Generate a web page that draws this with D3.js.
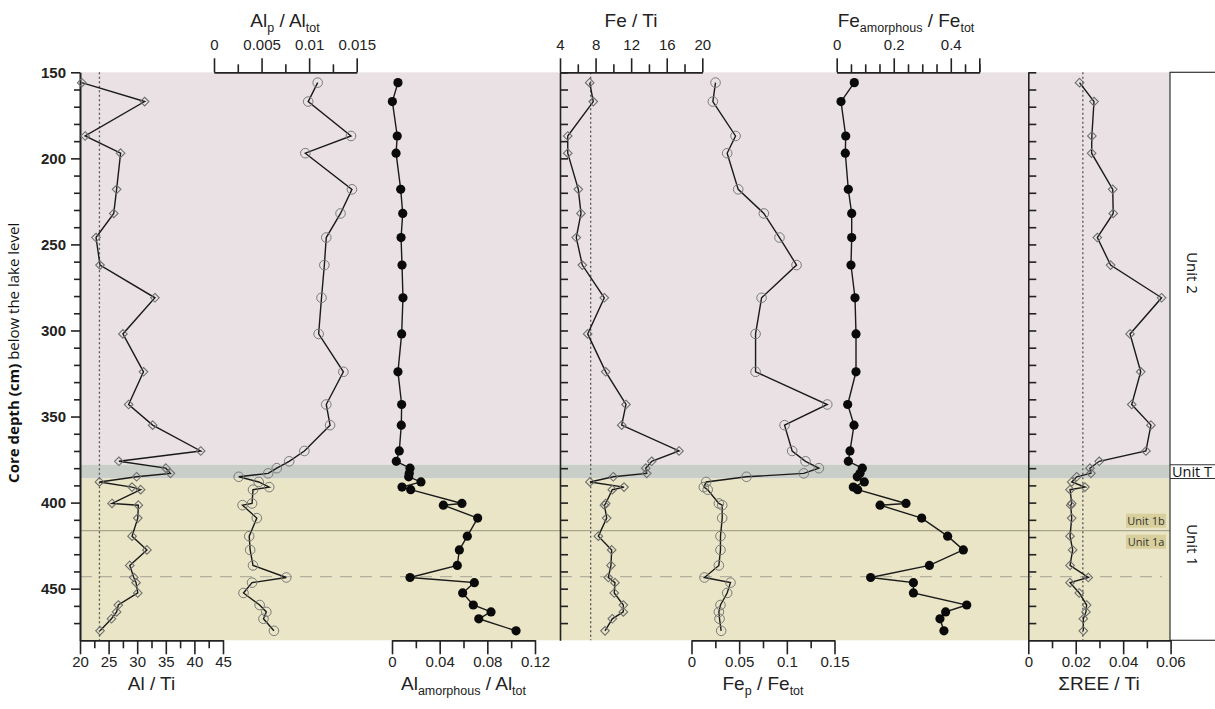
<!DOCTYPE html>
<html><head><meta charset="utf-8">
<script src="https://cdn.jsdelivr.net/npm/d3@7"></script>
<style>body{margin:0;background:#fff}svg{display:block}</style>
</head><body><svg id="c" width="1215" height="709"></svg>
<script>
// ---------------- data ----------------
const depth = [156,167,187,197,218,232,246,262,281,302,324,343,355,370,376,380,383,385,388,391,392.5,400.5,401.5,409,419.5,427.5,436.5,443.5,446.5,452.5,459.5,463.5,467.5,474.5];
const alTi = [20.3,31.3,20.9,27.1,26.4,25.9,22.8,23.5,33.1,27.5,31.1,28.5,32.7,41.1,26.8,35.0,35.8,29.9,23.4,29.1,30.6,25.6,30.2,30.1,29.1,31.7,28.7,29.4,29.8,30.1,26.7,26.4,25.5,23.5];
const alP = [0.0109,0.0099,0.0144,0.0096,0.0145,0.0133,0.0118,0.0116,0.0113,0.0110,0.0136,0.0118,0.0122,0.0095,0.0079,0.0066,0.0057,0.0026,0.0047,0.0058,0.0041,0.0040,0.0030,0.0045,0.0037,0.0038,0.0041,0.0076,0.0040,0.0031,0.0048,0.0055,0.0052,0.0063];
const alAm = [0.0050,0.0003,0.0044,0.0034,0.0073,0.0090,0.0076,0.0084,0.0092,0.0081,0.0050,0.0081,0.0078,0.0061,0.0036,0.0151,0.0145,0.0140,0.0243,0.0084,0.0157,0.0587,0.0431,0.0719,0.0632,0.0565,0.0548,0.0151,0.0691,0.0593,0.0682,0.0831,0.0728,0.1041];
const feTi = [7.34,7.74,4.87,4.87,6.06,6.36,5.83,6.51,8.98,7.11,9.14,11.42,10.94,17.38,14.31,13.64,13.75,9.99,7.37,11.2,9.88,9.14,9.0,9.25,8.31,9.81,9.73,9.43,10.18,10.1,11.12,11.12,9.88,9.06];
const feP = [0.0252,0.0224,0.0462,0.0374,0.0490,0.0759,0.0923,0.1102,0.0735,0.0672,0.0672,0.1424,0.0976,0.1056,0.1196,0.1336,0.1178,0.0577,0.0154,0.0129,0.0170,0.0287,0.0322,0.0322,0.0304,0.0304,0.0287,0.0136,0.0409,0.0374,0.0304,0.0287,0.0294,0.0311];
const feAm = [0.0617,0.0151,0.0316,0.0302,0.0407,0.0526,0.0526,0.0501,0.0642,0.0677,0.0677,0.0386,0.0607,0.0466,0.0407,0.0898,0.0817,0.0722,0.0968,0.0582,0.0736,0.243,0.152,0.298,0.389,0.444,0.325,0.119,0.269,0.269,0.456,0.382,0.362,0.376];
const reeTi = [0.0216,0.0277,0.0268,0.0267,0.0356,0.0358,0.0291,0.0347,0.0562,0.0429,0.0474,0.0436,0.0517,0.0496,0.0299,0.0260,0.0264,0.0204,0.0183,0.0239,0.0176,0.0183,0.0179,0.0183,0.0176,0.0187,0.0176,0.0253,0.0176,0.0215,0.0246,0.0243,0.0232,0.0232];

// reference values (dotted lines)
const refAlTi = 23.4, refFeTi = 7.45, refRee = 0.023;
// units
const unitNames = ["Unit 2","Unit T","Unit 1"];
const unitTops = [150,378,386];
const unitBottoms = [378,386,480];
const subUnitNames = ["Unit 1b","Unit 1a"];
const subBoundary = 416.3;   // Unit 1b / 1a
const dashedDepth = 443;
const depthMajor = [150,200,250,300,350,400,450];

// tick values
const alTiTicks = [20,25,30,35,40,45];
const alPTicks = [0,0.005,0.01,0.015];
const alAmTicks = [0,0.04,0.08,0.12];
const feTiTicks = [4,8,12,16,20];
const fePTicks = [0,0.05,0.1,0.15];
const feAmTicks = [0,0.2,0.4];
const reeTicks = [0,0.02,0.04,0.06];

// ---------------- layout ----------------
const svg = d3.select("#c");
const FONT = "'Liberation Sans', Arial, sans-serif";
const FONT2 = "'Open Sans', 'Noto Sans', sans-serif";
const yTop = 72.3, yBot = 640.3;
const y = d3.scaleLinear().domain([150,480]).range([yTop,yBot]);
const xAlTi = d3.scaleLinear().domain([20,45]).range([80,223]);
const xAlP = d3.scaleLinear().domain([0,0.015]).range([214,356.7]);
const xAlAm = d3.scaleLinear().domain([0,0.12]).range([392,535]);
const xFeTi = d3.scaleLinear().domain([4,20]).range([560,702.3]);
const xFeP = d3.scaleLinear().domain([0,0.15]).range([691.5,834.5]);
const xFeAm = d3.scaleLinear().domain([0,0.5]).range([836.7,979.3]);
const xRee = d3.scaleLinear().domain([0,0.06]).range([1028.3,1170.6]);
const xL = 80, xR = 1170;

// background bands
const bandColors = ["#e9e1e3","#c9cec9","#e9e5c6"];
svg.selectAll("rect.band").data(unitNames).enter().append("rect")
  .attr("x",xL).attr("width",xR-xL)
  .attr("y",(d,i)=>y(unitTops[i])).attr("height",(d,i)=>y(unitBottoms[i])-y(unitTops[i]))
  .attr("fill",(d,i)=>bandColors[i]);

// subunit lines
svg.append("line").attr("x1",xL).attr("x2",xR).attr("y1",y(subBoundary)).attr("y2",y(subBoundary))
  .attr("stroke","#aaa68c").attr("stroke-width",1.2);
svg.append("line").attr("x1",xL).attr("x2",xR-8).attr("y1",y(dashedDepth)).attr("y2",y(dashedDepth))
  .attr("stroke","#b3b09e").attr("stroke-width",1.2).attr("stroke-dasharray","12,8");

// subunit labels
[y(subBoundary)-17, y(subBoundary)+4].forEach((yy,i)=>{
  svg.append("rect").attr("x",1126).attr("y",yy).attr("width",40).attr("height",14).attr("fill","#d8cf9c");
  svg.append("text").attr("x",1146).attr("y",yy+11).attr("text-anchor","middle")
    .attr("font-family",FONT2).attr("font-size",11).attr("fill","#333").text(subUnitNames[i]);
});

// dotted reference lines
[xAlTi(refAlTi), xFeTi(refFeTi), xRee(refRee)].forEach(xx=>{
  svg.append("line").attr("x1",xx).attr("x2",xx).attr("y1",yTop).attr("y2",yBot)
    .attr("stroke","#555").attr("stroke-width",1.3).attr("stroke-dasharray","2,2.5");
});

// unit column
const uc = svg.append("g");
uc.append("rect").attr("x",xR).attr("y",yTop).attr("width",60).attr("height",yBot-yTop)
  .attr("fill","#fff").attr("stroke","#333").attr("stroke-width",1.2);
[378,386].forEach(d=>uc.append("line").attr("x1",xR).attr("x2",1215).attr("y1",y(d)).attr("y2",y(d)).attr("stroke","#333").attr("stroke-width",1.2));
uc.append("text").attr("x",xR+2).attr("y",(y(378)+y(386))/2+5).attr("font-family",FONT2).attr("font-size",14.5).attr("fill","#111").text(unitNames[1]);
[[0,273],[2,545]].forEach(([i,cy])=>{
  uc.append("text").attr("transform",`translate(1187,${cy}) rotate(90)`).attr("text-anchor","middle")
    .attr("font-family",FONT2).attr("font-size",15).attr("fill","#111").text(unitNames[i]);
});

// ---------------- axes ----------------
function styleAxis(g){
  g.selectAll("path.domain").attr("stroke","#222").attr("stroke-width",1.6);
  g.selectAll(".tick line").attr("stroke","#222").attr("stroke-width",1.6);
  g.selectAll(".tick text").attr("font-family",FONT).attr("font-size",15).attr("fill","#222");
}
function ruler(scale, major, minorStep, pos, ypos){
  const dom = scale.domain();
  const minor = d3.range(dom[0], dom[1]+minorStep/2, minorStep).filter(v=>!major.some(m=>Math.abs(m-v)<minorStep/10));
  const mk = pos==="top" ? d3.axisTop : d3.axisBottom;
  const g1 = svg.append("g").attr("transform",`translate(0,${ypos})`)
    .call(mk(scale).tickValues(minor).tickSize(8).tickSizeOuter(0).tickFormat(""));
  styleAxis(g1);
  const g2 = svg.append("g").attr("transform",`translate(0,${ypos})`)
    .call(mk(scale).tickValues(major.concat(dom[1]).filter((v,i,a)=>a.indexOf(v)===i)).tickSize(14).tickSizeOuter(0).tickPadding(pos==="top"?8:2)
      .tickFormat(v=>major.includes(v)?String(v):""));
  styleAxis(g2);
}
ruler(xAlP, alPTicks, 0.0025, "top", yTop);
ruler(xFeTi, feTiTicks, 2, "top", yTop);
ruler(xFeAm, feAmTicks, 0.05, "top", yTop);
ruler(xAlTi, alTiTicks, 2.5, "bottom", yBot);
ruler(xAlAm, alAmTicks, 0.02, "bottom", yBot);
ruler(xFeP, fePTicks, 0.025, "bottom", yBot);
ruler(xRee, reeTicks, 0.01, "bottom", yBot);

// depth axis (left)
const gyMinor = svg.append("g").attr("transform",`translate(${xL},0)`)
  .call(d3.axisLeft(y).tickValues(d3.range(160,480,10).filter(v=>v%50)).tickSize(6).tickSizeOuter(0).tickFormat(""));
styleAxis(gyMinor);
const gy = svg.append("g").attr("transform",`translate(${xL},0)`)
  .call(d3.axisLeft(y).tickValues(depthMajor).tickSize(9).tickSizeOuter(0).tickPadding(5));
styleAxis(gy);
gy.selectAll(".tick text").attr("font-weight","bold").attr("font-size",15);

// inner depth axes (ticks to the right)
[xFeTi(4), xRee(0)].forEach(xx=>{
  const a = svg.append("g").attr("transform",`translate(${xx},0)`)
    .call(d3.axisRight(y).tickValues(d3.range(150,480,10)).tickSize(8).tickSizeOuter(0).tickFormat(""));
  styleAxis(a);
});

// axis titles
function title(parts, cx, by){
  const t = svg.append("text").attr("x",cx).attr("y",by).attr("text-anchor","middle")
    .attr("font-family",FONT).attr("font-size",19).attr("fill","#222");
  let prevSub = false;
  parts.forEach(([s,sub])=>{
    const ts = t.append("tspan").text(s);
    if(sub){ ts.attr("font-size",12.5).attr("dy",5); }
    else if(prevSub){ ts.attr("dy",-5); }
    prevSub = !!sub;
  });
}
title([["Al",0],["p",1],[" / Al",0],["tot",1]], 285, 27);
title([["Fe / Ti",0]], 631, 27);
title([["Fe",0],["amorphous",1],[" / Fe",0],["tot",1]], 906, 27);
title([["Al / Ti",0]], 151.5, 690);
title([["Al",0],["amorphous",1],[" / Al",0],["tot",1]], 463.5, 690);
title([["Fe",0],["p",1],[" / Fe",0],["tot",1]], 763, 690);
title([["ΣREE / Ti",0]], 1099, 690);

// y title
const yt = svg.append("text").attr("transform",`translate(19,${y(313)}) rotate(-90)`).attr("text-anchor","middle")
  .attr("font-family",FONT2).attr("font-size",15).attr("fill","#111");
yt.append("tspan").attr("font-weight","bold").text("Core depth (cm)");
yt.append("tspan").text(" below the lake level");

// ---------------- series ----------------
const diamond = "M0,-4.3L4.3,0L0,4.3L-4.3,0Z";
function series(vals, xs, kind){
  const pts = depth.map((d,i)=>[xs(vals[i]), y(d)]);
  svg.append("path").attr("d", d3.line()(pts)).attr("fill","none").attr("stroke","#1a1a1a").attr("stroke-width",1.4);
  const g = svg.append("g");
  if(kind==="diamond"){
    g.selectAll("path").data(pts).enter().append("path").attr("d",diamond)
      .attr("transform",p=>`translate(${p[0]},${p[1]})`).attr("fill","none").attr("stroke","#6f6f6f").attr("stroke-width",1.1);
  } else if(kind==="open"){
    g.selectAll("circle").data(pts).enter().append("circle").attr("cx",p=>p[0]).attr("cy",p=>p[1]).attr("r",4.8)
      .attr("fill","none").attr("stroke","#7a7a7a").attr("stroke-width",1);
  } else {
    g.selectAll("circle").data(pts).enter().append("circle").attr("cx",p=>p[0]).attr("cy",p=>p[1]).attr("r",4.6)
      .attr("fill","#0a0a0a");
  }
}
series(alTi, xAlTi, "diamond");
series(alP, xAlP, "open");
series(alAm, xAlAm, "filled");
series(feTi, xFeTi, "diamond");
series(feP, xFeP, "open");
series(feAm, xFeAm, "filled");
series(reeTi, xRee, "diamond");
</script></body></html>
